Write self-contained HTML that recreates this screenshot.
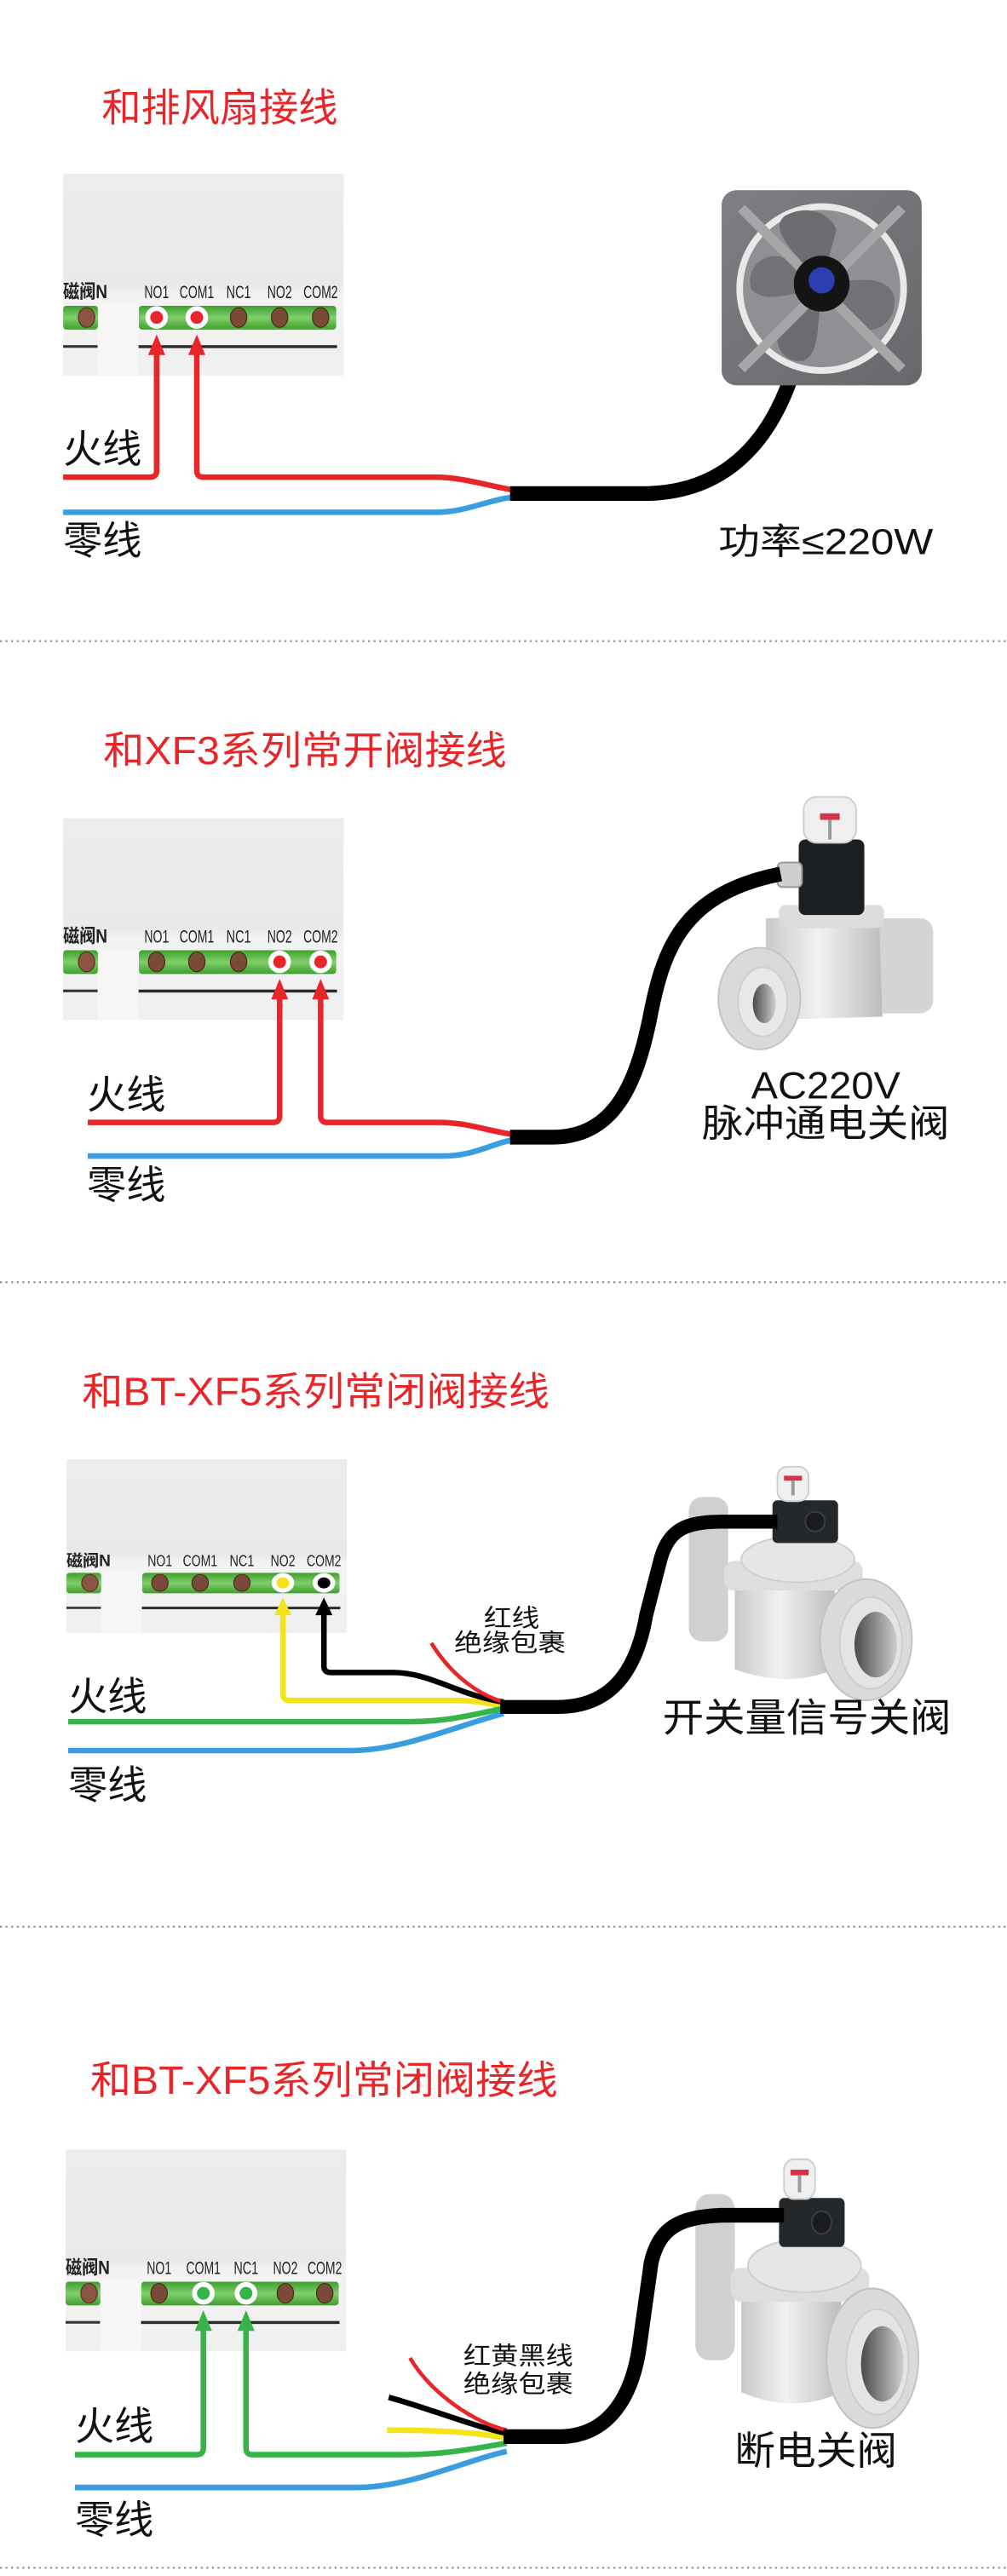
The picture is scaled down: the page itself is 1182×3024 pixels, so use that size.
<!DOCTYPE html>
<html><head><meta charset="utf-8"><style>
html,body{margin:0;padding:0;background:#fff;}
svg{display:block;}
text{font-family:"Liberation Sans","Noto Sans CJK SC",sans-serif;}
</style></head><body>
<svg width="1182" height="3024" viewBox="0 0 614 1571" preserveAspectRatio="none" xmlns="http://www.w3.org/2000/svg">
<defs>
<linearGradient id="pg" x1="0" y1="0" x2="0" y2="1"><stop offset="0" stop-color="#ececea"/><stop offset="0.55" stop-color="#e9e9e7"/><stop offset="0.6" stop-color="#f3f3f3"/><stop offset="1" stop-color="#efefef"/></linearGradient>
<linearGradient id="gs" x1="0" y1="0" x2="0" y2="1"><stop offset="0" stop-color="#3f9e2e"/><stop offset="0.5" stop-color="#7fd06a"/><stop offset="1" stop-color="#3f9e2e"/></linearGradient>
<linearGradient id="sv" x1="0" y1="0" x2="1" y2="0"><stop offset="0" stop-color="#c9c9c9"/><stop offset="0.45" stop-color="#f2f2f2"/><stop offset="1" stop-color="#bdbdbd"/></linearGradient>
<linearGradient id="hole" x1="0" y1="0" x2="1" y2="0"><stop offset="0" stop-color="#4a4a4a"/><stop offset="0.6" stop-color="#9a9a9a"/><stop offset="1" stop-color="#cfcfcf"/></linearGradient>
<linearGradient id="fanbg" x1="0" y1="0" x2="1" y2="1"><stop offset="0" stop-color="#7d7f82"/><stop offset="1" stop-color="#66686b"/></linearGradient>
</defs>

<!-- ===== SECTION 1 ===== -->
<text x="62" y="74" font-size="24" fill="#e8262a">和排风扇接线</text>
<g transform="translate(38.5,106)">
<rect x="0" y="0" width="171" height="123" fill="url(#pg)"/>
<rect x="21" y="80" width="25" height="43" fill="#f6f6f6"/>
<text x="0" y="75.8" font-size="11.5" textLength="27" lengthAdjust="spacingAndGlyphs" font-weight="bold" fill="#222">磁阀N</text>
<text x="57" y="75.8" font-size="11" text-anchor="middle" textLength="15" lengthAdjust="spacingAndGlyphs" fill="#222">NO1</text>
<text x="81.5" y="75.8" font-size="11" text-anchor="middle" textLength="21" lengthAdjust="spacingAndGlyphs" fill="#222">COM1</text>
<text x="107" y="75.8" font-size="11" text-anchor="middle" textLength="15" lengthAdjust="spacingAndGlyphs" fill="#222">NC1</text>
<text x="132" y="75.8" font-size="11" text-anchor="middle" textLength="15" lengthAdjust="spacingAndGlyphs" fill="#222">NO2</text>
<text x="157" y="75.8" font-size="11" text-anchor="middle" textLength="21" lengthAdjust="spacingAndGlyphs" fill="#222">COM2</text>
<rect x="0" y="80.5" width="21.2" height="14.5" rx="2" fill="url(#gs)"/>
<rect x="46.2" y="80.5" width="120.3" height="14.5" rx="2" fill="url(#gs)"/>
<rect x="0" y="104.5" width="21" height="1.6" fill="#333"/>
<rect x="46" y="104.5" width="121" height="1.8" fill="#2a2a2a"/>
<ellipse cx="14.3" cy="87.6" rx="5" ry="6" fill="#8a5545" stroke="#5a3020" stroke-width="0.6"/>
<ellipse cx="107" cy="87.6" rx="5" ry="6" fill="#7a4a38" stroke="#4a2818" stroke-width="0.6"/>
<ellipse cx="132" cy="87.6" rx="5" ry="6" fill="#7a4a38" stroke="#4a2818" stroke-width="0.6"/>
<ellipse cx="157" cy="87.6" rx="5" ry="6" fill="#7a4a38" stroke="#4a2818" stroke-width="0.6"/>
<circle cx="57" cy="87.6" r="6.9" fill="#fff"/><circle cx="57" cy="87.6" r="3.9" fill="#e8262a"/>
<circle cx="81.5" cy="87.6" r="6.9" fill="#fff"/><circle cx="81.5" cy="87.6" r="3.9" fill="#e8262a"/>
<polygon points="57,98 51.8,110.5 62.2,110.5" fill="#e8262a"/>
<polygon points="81.5,98 76.3,110.5 86.7,110.5" fill="#e8262a"/>
</g>
<g fill="none" stroke-width="3.4" stroke-linejoin="round">
<path d="M95.5 216 V287 Q95.5 291 91.5 291 H38.5" stroke="#e8262a"/>
<path d="M120 216 V287 Q120 291 124 291 H265 C282 291 296 296 314 299" stroke="#e8262a"/>
<path d="M38.5 312.4 H265 C285 312.4 296 305 314 303" stroke="#3a9de0"/>
</g>
<path d="M311 301 H392 C440 301 470 272 485 222 L501 176" fill="none" stroke="#000" stroke-width="9"/>
<!-- fan -->
<g>
<rect x="440" y="116" width="122" height="119" rx="9" fill="url(#fanbg)"/>
<circle cx="501" cy="176" r="52" fill="#e9e9e9"/>
<circle cx="501" cy="176" r="48" fill="#8e9093"/>
<path d="M501 173 C480 150 470 140 478 132 C490 125 505 128 510 140 Z" fill="#6b6d70"/>
<path d="M501 173 C525 170 540 168 545 180 C548 195 535 205 522 200 Z" fill="#707275"/>
<path d="M501 176 C498 200 500 215 490 220 C478 222 470 210 476 198 Z" fill="#6b6d70"/>
<path d="M501 176 C478 180 465 185 458 176 C454 162 468 152 480 158 Z" fill="#707275"/>
<g stroke="#a4a6a8" stroke-width="6"><line x1="452" y1="127" x2="550" y2="225"/><line x1="550" y1="127" x2="452" y2="225"/></g>
<circle cx="501" cy="173" r="17" fill="#141414"/>
<circle cx="501" cy="171" r="8" fill="#2b3fb0"/>
</g>
<text x="438" y="338" font-size="22" textLength="131" lengthAdjust="spacingAndGlyphs" fill="#111">功率≤220W</text>
<text x="38.5" y="282" font-size="24" fill="#111">火线</text>
<text x="38.5" y="338" font-size="24" fill="#111">零线</text>
<line x1="0" y1="391" x2="614" y2="391" stroke="#888" stroke-width="1" stroke-dasharray="1.2 2.2"/>

<!-- ===== SECTION 2 ===== -->
<text x="63" y="466" font-size="24" fill="#e8262a" textLength="246" lengthAdjust="spacingAndGlyphs">和XF3系列常开阀接线</text>
<g transform="translate(38.5,499)">
<rect x="0" y="0" width="171" height="123" fill="url(#pg)"/>
<rect x="21" y="80" width="25" height="43" fill="#f6f6f6"/>
<text x="0" y="75.8" font-size="11.5" textLength="27" lengthAdjust="spacingAndGlyphs" font-weight="bold" fill="#222">磁阀N</text>
<text x="57" y="75.8" font-size="11" text-anchor="middle" textLength="15" lengthAdjust="spacingAndGlyphs" fill="#222">NO1</text>
<text x="81.5" y="75.8" font-size="11" text-anchor="middle" textLength="21" lengthAdjust="spacingAndGlyphs" fill="#222">COM1</text>
<text x="107" y="75.8" font-size="11" text-anchor="middle" textLength="15" lengthAdjust="spacingAndGlyphs" fill="#222">NC1</text>
<text x="132" y="75.8" font-size="11" text-anchor="middle" textLength="15" lengthAdjust="spacingAndGlyphs" fill="#222">NO2</text>
<text x="157" y="75.8" font-size="11" text-anchor="middle" textLength="21" lengthAdjust="spacingAndGlyphs" fill="#222">COM2</text>
<rect x="0" y="80.5" width="21.2" height="14.5" rx="2" fill="url(#gs)"/>
<rect x="46.2" y="80.5" width="120.3" height="14.5" rx="2" fill="url(#gs)"/>
<rect x="0" y="104.5" width="21" height="1.6" fill="#333"/>
<rect x="46" y="104.5" width="121" height="1.8" fill="#2a2a2a"/>
<ellipse cx="14.3" cy="87.6" rx="5" ry="6" fill="#8a5545" stroke="#5a3020" stroke-width="0.6"/>
<ellipse cx="57" cy="87.6" rx="5" ry="6" fill="#7a4a38" stroke="#4a2818" stroke-width="0.6"/>
<ellipse cx="81.5" cy="87.6" rx="5" ry="6" fill="#7a4a38" stroke="#4a2818" stroke-width="0.6"/>
<ellipse cx="107" cy="87.6" rx="5" ry="6" fill="#7a4a38" stroke="#4a2818" stroke-width="0.6"/>
<circle cx="132" cy="87.6" r="6.9" fill="#fff"/><circle cx="132" cy="87.6" r="3.9" fill="#e8262a"/>
<circle cx="157" cy="87.6" r="6.9" fill="#fff"/><circle cx="157" cy="87.6" r="3.9" fill="#e8262a"/>
<polygon points="132,98 126.8,110.5 137.2,110.5" fill="#e8262a"/>
<polygon points="157,98 151.8,110.5 162.2,110.5" fill="#e8262a"/>
</g>
<g fill="none" stroke-width="3.4" stroke-linejoin="round">
<path d="M170.5 609 V680.5 Q170.5 684.5 166.5 684.5 H53.5" stroke="#e8262a"/>
<path d="M195.5 609 V680.5 Q195.5 684.5 199.5 684.5 H268 C285 684.5 298 690 314 692" stroke="#e8262a"/>
<path d="M53.5 705 H270 C290 705 300 697 314 695" stroke="#3a9de0"/>
</g>
<!-- valve 2 -->
<g>
<rect x="521" y="560" width="48" height="58" rx="8" fill="#d4d4d4"/>
<path d="M467 560 L536 558 L538 620 L467 622 Z" fill="url(#sv)"/>
<rect x="475" y="552" width="64" height="14" rx="4" fill="#dcdcdc"/>
<ellipse cx="463" cy="609" rx="25" ry="31" fill="#d9d9d9" stroke="#c4c4c4"/>
<ellipse cx="465" cy="611" rx="15" ry="21" fill="#e8e8e8" stroke="#cfcfcf"/>
<ellipse cx="466" cy="612" rx="7" ry="12" fill="url(#hole)"/>
<rect x="487" y="512" width="40" height="46" rx="4" fill="#1c1f22"/>
<rect x="490" y="486" width="32" height="28" rx="8" fill="#efefef" stroke="#cfcfcf"/>
<rect x="500" y="496" width="12" height="4" fill="#d8324a"/>
<rect x="505" y="500" width="2" height="12" fill="#999"/>
<rect x="474" y="526" width="15" height="15" rx="3" fill="#cfcfcf" stroke="#999"/>
</g>
<path d="M311 693.5 H337 C375 693.5 388 660 396 622 C404 580 415 545 476 533" fill="none" stroke="#000" stroke-width="9"/>
<text x="503.5" y="670" font-size="23" text-anchor="middle" textLength="91" lengthAdjust="spacingAndGlyphs" fill="#111">AC220V</text>
<text x="503.5" y="693" font-size="23" text-anchor="middle" textLength="151" lengthAdjust="spacingAndGlyphs" fill="#111">脉冲通电关阀</text>
<text x="53" y="676" font-size="24" fill="#111">火线</text>
<text x="53" y="731" font-size="24" fill="#111">零线</text>
<line x1="0" y1="782" x2="614" y2="782" stroke="#888" stroke-width="1" stroke-dasharray="1.2 2.2"/>

<!-- ===== SECTION 3 ===== -->
<text x="50" y="857" font-size="24" fill="#e8262a" textLength="285" lengthAdjust="spacingAndGlyphs">和BT-XF5系列常闭阀接线</text>
<g transform="translate(40.5,890) scale(1,0.86)">
<rect x="0" y="0" width="171" height="123" fill="url(#pg)"/>
<rect x="21" y="80" width="25" height="43" fill="#f6f6f6"/>
<text x="0" y="75.8" font-size="11.5" textLength="27" lengthAdjust="spacingAndGlyphs" font-weight="bold" fill="#222">磁阀N</text>
<text x="57" y="75.8" font-size="11" text-anchor="middle" textLength="15" lengthAdjust="spacingAndGlyphs" fill="#222">NO1</text>
<text x="81.5" y="75.8" font-size="11" text-anchor="middle" textLength="21" lengthAdjust="spacingAndGlyphs" fill="#222">COM1</text>
<text x="107" y="75.8" font-size="11" text-anchor="middle" textLength="15" lengthAdjust="spacingAndGlyphs" fill="#222">NC1</text>
<text x="132" y="75.8" font-size="11" text-anchor="middle" textLength="15" lengthAdjust="spacingAndGlyphs" fill="#222">NO2</text>
<text x="157" y="75.8" font-size="11" text-anchor="middle" textLength="21" lengthAdjust="spacingAndGlyphs" fill="#222">COM2</text>
<rect x="0" y="80.5" width="21.2" height="14.5" rx="2" fill="url(#gs)"/>
<rect x="46.2" y="80.5" width="120.3" height="14.5" rx="2" fill="url(#gs)"/>
<rect x="0" y="104.5" width="21" height="1.6" fill="#333"/>
<rect x="46" y="104.5" width="121" height="1.8" fill="#2a2a2a"/>
<ellipse cx="14.3" cy="87.6" rx="5" ry="6" fill="#8a5545" stroke="#5a3020" stroke-width="0.6"/>
<ellipse cx="57" cy="87.6" rx="5" ry="6" fill="#7a4a38" stroke="#4a2818" stroke-width="0.6"/>
<ellipse cx="81.5" cy="87.6" rx="5" ry="6" fill="#7a4a38" stroke="#4a2818" stroke-width="0.6"/>
<ellipse cx="107" cy="87.6" rx="5" ry="6" fill="#7a4a38" stroke="#4a2818" stroke-width="0.6"/>
<circle cx="132" cy="87.6" r="6.9" fill="#fff"/><circle cx="132" cy="87.6" r="3.9" fill="#f5e31a"/>
<circle cx="157" cy="87.6" r="6.9" fill="#fff"/><circle cx="157" cy="87.6" r="3.9" fill="#000"/>
<polygon points="132,98 126.8,110.5 137.2,110.5" fill="#f5e31a"/>
<polygon points="157,98 151.8,110.5 162.2,110.5" fill="#000"/>
</g>
<g fill="none" stroke-width="3.4" stroke-linejoin="round">
<path d="M172.5 984 V1033 Q172.5 1037 176.5 1037 H277 C290 1037 298 1039 307 1040.5" stroke="#f5e31a"/>
<path d="M197.5 984 V1016 Q197.5 1020 201.5 1020 H240 C262 1020 280 1034 307 1038" stroke="#000"/>
<path d="M263 1002 C274 1020 290 1033 307 1038" stroke="#e8262a" stroke-width="2.4"/>
<path d="M41.6 1050 H249 C275 1050 290 1045 307 1042" stroke="#35b448"/>
<path d="M41.6 1067.6 H214 C245 1067.6 280 1052 307 1045" stroke="#3a9de0"/>
</g>
<!-- valve 3 -->
<g id="v3">
<rect x="420" y="913" width="24" height="88" rx="8" fill="#d0d0d0"/>
<path d="M448 968 L509 968 L509 1018 Q480 1030 448 1018 Z" fill="url(#sv)"/>
<rect x="441.5" y="952" width="84.5" height="18" rx="6" fill="#dedede"/>
<ellipse cx="486.5" cy="951" rx="34.5" ry="14" fill="#e6e6e6" stroke="#cfcfcf"/>
<ellipse cx="528" cy="1000" rx="28" ry="37" fill="#dadada" stroke="#c2c2c2"/>
<ellipse cx="531" cy="1002" rx="19" ry="28" fill="#e4e4e4" stroke="#cdcdcd"/>
<ellipse cx="534" cy="1003" rx="13" ry="20" fill="url(#hole)"/>
<rect x="471" y="915" width="40" height="26" rx="3" fill="#25282b"/>
<circle cx="497" cy="928" r="6" fill="#1a1c1e" stroke="#3a3d40"/>
<rect x="474" y="894.5" width="19" height="21" rx="6" fill="#f0f0f0" stroke="#cfcfcf"/>
<rect x="478" y="900" width="11" height="3" fill="#d8324a"/>
<rect x="482.5" y="903" width="2" height="9" fill="#999"/>
</g>
<path d="M305 1041 H340 C372 1041 388 1020 394 985 L403 950 C408 933 418 928 440 928 H474" fill="none" stroke="#000" stroke-width="8.5"/>
<text x="312" y="992" font-size="15" text-anchor="middle" textLength="34" lengthAdjust="spacingAndGlyphs" fill="#111">红线</text>
<text x="311" y="1007" font-size="15" text-anchor="middle" textLength="68" lengthAdjust="spacingAndGlyphs" fill="#111">绝缘包裹</text>
<text x="404" y="1056" font-size="24" textLength="176" lengthAdjust="spacingAndGlyphs" fill="#111">开关量信号关阀</text>
<text x="41.6" y="1043" font-size="24" fill="#111">火线</text>
<text x="41.6" y="1097" font-size="24" fill="#111">零线</text>
<line x1="0" y1="1175" x2="614" y2="1175" stroke="#888" stroke-width="1" stroke-dasharray="1.2 2.2"/>

<!-- ===== SECTION 4 ===== -->
<text x="55" y="1277" font-size="24" fill="#e8262a" textLength="285" lengthAdjust="spacingAndGlyphs">和BT-XF5系列常闭阀接线</text>
<g transform="translate(40,1311)">
<rect x="0" y="0" width="171" height="123" fill="url(#pg)"/>
<rect x="21" y="80" width="25" height="43" fill="#f6f6f6"/>
<text x="0" y="75.8" font-size="11.5" textLength="27" lengthAdjust="spacingAndGlyphs" font-weight="bold" fill="#222">磁阀N</text>
<text x="57" y="75.8" font-size="11" text-anchor="middle" textLength="15" lengthAdjust="spacingAndGlyphs" fill="#222">NO1</text>
<text x="84" y="75.8" font-size="11" text-anchor="middle" textLength="21" lengthAdjust="spacingAndGlyphs" fill="#222">COM1</text>
<text x="110" y="75.8" font-size="11" text-anchor="middle" textLength="15" lengthAdjust="spacingAndGlyphs" fill="#222">NC1</text>
<text x="134" y="75.8" font-size="11" text-anchor="middle" textLength="15" lengthAdjust="spacingAndGlyphs" fill="#222">NO2</text>
<text x="158" y="75.8" font-size="11" text-anchor="middle" textLength="21" lengthAdjust="spacingAndGlyphs" fill="#222">COM2</text>
<rect x="0" y="80.5" width="21.2" height="14.5" rx="2" fill="url(#gs)"/>
<rect x="46.2" y="80.5" width="120.3" height="14.5" rx="2" fill="url(#gs)"/>
<rect x="0" y="104.5" width="21" height="1.6" fill="#333"/>
<rect x="46" y="104.5" width="121" height="1.8" fill="#2a2a2a"/>
<ellipse cx="14.3" cy="87.6" rx="5" ry="6" fill="#8a5545" stroke="#5a3020" stroke-width="0.6"/>
<ellipse cx="57" cy="87.6" rx="5" ry="6" fill="#7a4a38" stroke="#4a2818" stroke-width="0.6"/>
<ellipse cx="134" cy="87.6" rx="5" ry="6" fill="#7a4a38" stroke="#4a2818" stroke-width="0.6"/>
<ellipse cx="158" cy="87.6" rx="5" ry="6" fill="#7a4a38" stroke="#4a2818" stroke-width="0.6"/>
<circle cx="84" cy="87.6" r="6.9" fill="#fff"/><circle cx="84" cy="87.6" r="3.9" fill="#35b448"/>
<circle cx="110" cy="87.6" r="6.9" fill="#fff"/><circle cx="110" cy="87.6" r="3.9" fill="#35b448"/>
<polygon points="84,98 78.8,110.5 89.2,110.5" fill="#35b448"/>
<polygon points="110,98 104.8,110.5 115.2,110.5" fill="#35b448"/>
</g>
<g fill="none" stroke-width="3.4" stroke-linejoin="round">
<path d="M124 1419 V1493 Q124 1497 120 1497 H45.7" stroke="#35b448"/>
<path d="M150 1419 V1493 Q150 1497 154 1497 H246 C275 1497 295 1492 309 1490" stroke="#35b448"/>
<path d="M45.7 1517 H218 C250 1517 285 1500 309 1495" stroke="#3a9de0"/>
<path d="M236 1482 C270 1482 295 1484 309 1487" stroke="#f5e31a"/>
<path d="M237 1462 C265 1470 290 1480 309 1484" stroke="#000"/>
<path d="M250 1438 C263 1460 290 1478 309 1482" stroke="#e8262a" stroke-width="2.4"/>
</g>
<g transform="translate(4,1314) scale(1,1.15) translate(0,-892)">
<rect x="420" y="913" width="24" height="88" rx="8" fill="#d0d0d0"/>
<path d="M448 968 L509 968 L509 1018 Q480 1030 448 1018 Z" fill="url(#sv)"/>
<rect x="441.5" y="952" width="84.5" height="18" rx="6" fill="#dedede"/>
<ellipse cx="486.5" cy="951" rx="34.5" ry="14" fill="#e6e6e6" stroke="#cfcfcf"/>
<ellipse cx="528" cy="1000" rx="28" ry="37" fill="#dadada" stroke="#c2c2c2"/>
<ellipse cx="531" cy="1002" rx="19" ry="28" fill="#e4e4e4" stroke="#cdcdcd"/>
<ellipse cx="534" cy="1003" rx="13" ry="20" fill="url(#hole)"/>
<rect x="471" y="915" width="40" height="26" rx="3" fill="#25282b"/>
<circle cx="497" cy="928" r="6" fill="#1a1c1e" stroke="#3a3d40"/>
<rect x="474" y="894.5" width="19" height="21" rx="6" fill="#f0f0f0" stroke="#cfcfcf"/>
<rect x="478" y="900" width="11" height="3" fill="#d8324a"/>
<rect x="482.5" y="903" width="2" height="9" fill="#999"/>
</g>
<path d="M307 1486 H341 C372 1486 386 1460 390 1430 L397 1380 C402 1358 415 1352 440 1351 H478" fill="none" stroke="#000" stroke-width="9"/>
<text x="316" y="1442" font-size="15" text-anchor="middle" textLength="67" lengthAdjust="spacingAndGlyphs" fill="#111">红黄黑线</text>
<text x="316" y="1459" font-size="15" text-anchor="middle" textLength="67" lengthAdjust="spacingAndGlyphs" fill="#111">绝缘包裹</text>
<text x="448" y="1503" font-size="24" textLength="99" lengthAdjust="spacingAndGlyphs" fill="#111">断电关阀</text>
<text x="45.7" y="1488" font-size="24" fill="#111">火线</text>
<text x="45.7" y="1545" font-size="24" fill="#111">零线</text>
<line x1="0" y1="1566" x2="614" y2="1566" stroke="#888" stroke-width="1" stroke-dasharray="1.2 2.2"/>
</svg>
</body></html>
